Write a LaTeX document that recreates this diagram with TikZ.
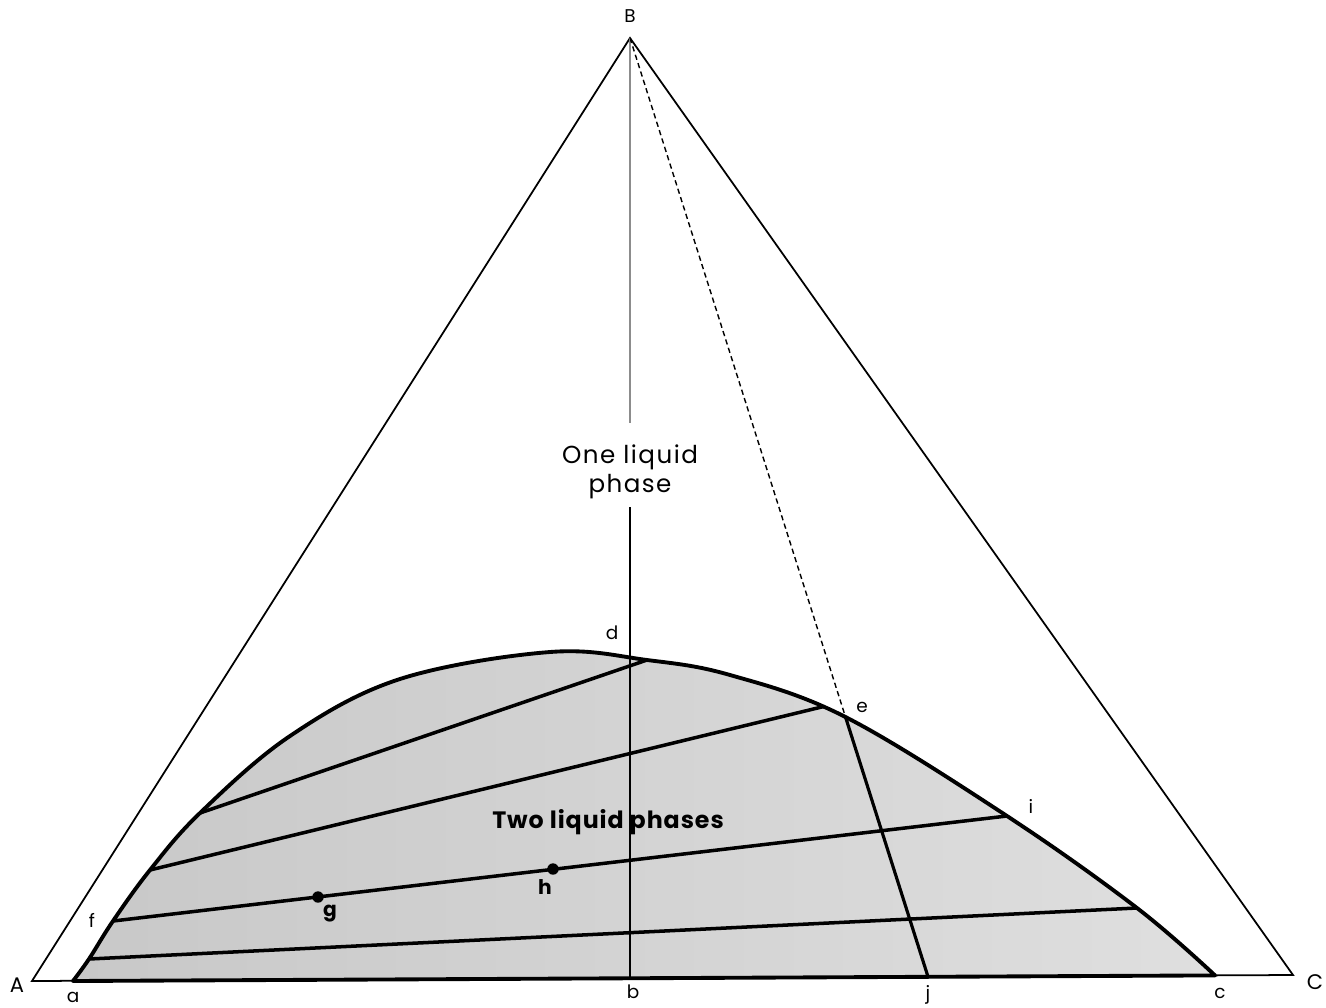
\documentclass[tikz,border=0pt]{standalone}
\usepackage{fontspec}
\setmainfont{Poppins}
\usetikzlibrary{positioning,intersections}
\definecolor{PhaseDark}{HTML}{C8C8C8}
\definecolor{PhaseLight}{HTML}{DFDFDF}
\definecolor{GuideGray}{HTML}{8C8C8C}

\begin{document}
\begin{tikzpicture}[x=0.02cm,y=-0.02cm,
    side/.style={line width=1pt},
    binodal/.style={line width=2.2pt,line join=round},
    tieline/.style={line width=2pt},
    pt/.style={font=\fontsize{10.5}{12}\selectfont},
    corner/.style={font=\fontsize{12}{14}\selectfont},
    ptbold/.style={font=\fontsize{11.5}{13}\selectfont\bfseries},
    dot/.style={circle,fill=black,inner sep=0pt,minimum size=6.5pt}]
  \useasboundingbox (0,0) rectangle (1326,1008);
  % corners of the triangle
  \coordinate (A) at (32,981);
  \coordinate (B) at (630,38);
  \coordinate (C) at (1293,975);
  % points on the base
  \coordinate (a) at (73,981);
  \coordinate (b) at (630,978.2);
  \coordinate (j) at (928,976.7);
  \coordinate (c) at (1215,975.4);
  % ends of the tie lines
  \coordinate (t1l) at (89,959);
  \coordinate (t1r) at (1137,908);
  \coordinate (f) at (113,921);
  \coordinate (i) at (1007,816);
  \coordinate (t3l) at (150,870);
  \coordinate (t4l) at (200,813);
  \coordinate (t4r) at (647,660);
  \coordinate (e) at (845.5,717);
  \coordinate (gapTop) at (630,423);
  \coordinate (gapBot) at (630,507);
  % two-phase region
  \filldraw[binodal,left color=PhaseDark,right color=PhaseLight,draw=black,
    name path=binodalpath] plot[smooth,tension=0.6] coordinates {
    (73,981) (89,959) (113,921) (150,870) (200,813) (290,736) (400,679)
    (550,652) (647,660) (730,675) (845.5,717)
    (1007,816) (1137,908) (1215,975.4)} -- cycle;
  \path[name path=tie3] (170,865) -- (900,688);
  \path[name intersections={of=binodalpath and tie3,by=t3r}];
  \draw[side] (A) -- (B) -- (C) -- cycle;
  \draw[tieline] (t1l) -- (t1r);
  \draw[tieline] (f) -- (i);
  \draw[tieline] (t3l) -- (t3r);
  \draw[tieline] (t4l) -- (t4r);
  \draw[GuideGray,line width=0.8pt] (B) -- (gapTop);
  \draw[line width=1.5pt] (gapBot) -- (b);
  \draw[line width=0.8pt,dash pattern=on 3pt off 2pt] (B) -- (e);
  \draw[line width=1.8pt] (e) -- (j);
  \node[dot] (g) at (318,897) {};
  \node[dot] (h) at (553,869) {};
  % labels
  \node[pt] (labB) at (630,16) {B};
  \node[corner] (labA) at (17,985) {A};
  \node[corner] (labC) at (1315,982) {C};
  \node[pt] (laba) at (73,997) {a};
  \node[pt] (labb) at (633,992) {b};
  \node[pt] (labj) at (928,995) {j};
  \node[pt] (labc) at (1220,993) {c};
  \node[pt] (labd) at (612,633) {d};
  \node[pt] (labe) at (862,707) {e};
  \node[pt] (labi) at (1031,806) {i};
  \node[pt] (labf) at (92,920) {f};
  \node[ptbold] (labg) at (330,914) {g};
  \node[ptbold] (labh) at (545,887) {h};
  \node[align=center,font=\fontsize{14}{16.5}\addfontfeatures{LetterSpace=6}]
    (onephase) at (630,472) {One liquid\\phase};
  \node[font=\fontsize{13.5}{15}\bfseries\addfontfeatures{LetterSpace=4}]
    (twophase) at (608,822) {Two liquid phases};
\end{tikzpicture}
\end{document}
